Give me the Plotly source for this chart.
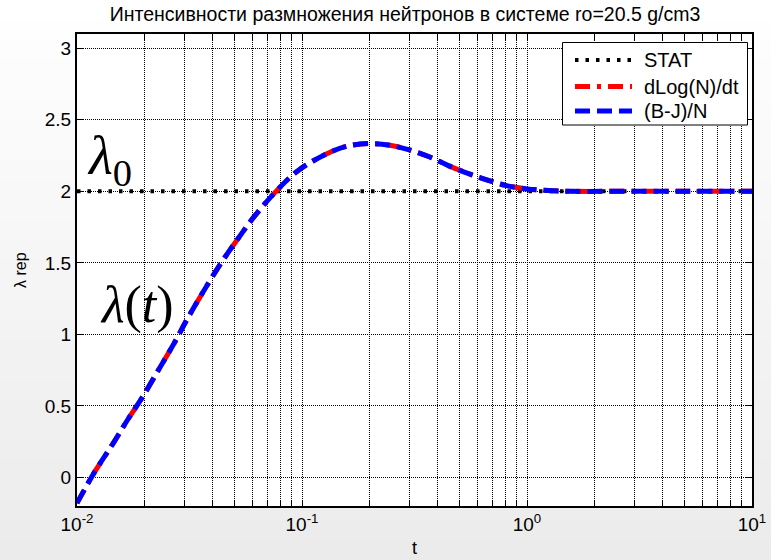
import plotly.graph_objects as go

# ---- data ----
t_vals = [0.01, 0.012, 0.0145, 0.0169, 0.0197, 0.0234, 0.0273, 0.0307, 0.0352, 0.0433,
          0.052, 0.0618, 0.0772, 0.0963, 0.129, 0.158, 0.2, 0.246, 0.3, 0.37,
          0.447, 0.558, 0.662, 0.81, 1.0, 1.245, 1.6, 2.5, 5.0, 10.0]
lam_dlog = [-0.18, 0.04, 0.24, 0.41, 0.57, 0.77, 0.95, 1.10, 1.26, 1.49,
            1.67, 1.83, 2.005, 2.146, 2.263, 2.315, 2.334, 2.322, 2.29, 2.24,
            2.18, 2.12, 2.08, 2.04, 2.017, 2.005, 2.0, 2.0, 2.0, 2.0]
lam_bj = [-0.18, 0.04, 0.24, 0.41, 0.57, 0.77, 0.95, 1.10, 1.26, 1.49,
          1.67, 1.83, 2.005, 2.146, 2.263, 2.315, 2.334, 2.322, 2.29, 2.24,
          2.18, 2.12, 2.08, 2.04, 2.017, 2.005, 2.0, 2.0, 2.0, 2.0]
t_stat = [0.01, 10.0]
lam_stat = [2.0, 2.0]

series_names = ["STAT", "dLog(N)/dt", "(B-J)/N"]
title_text = "Интенсивности размножения нейтронов в системе ro=20.5 g/cm3"
x_label = "t"
y_label = "λ rep"

x_major = [0.01, 0.1, 1.0, 10.0]
x_major_text = ["10<sup>-2</sup>", "10<sup>-1</sup>", "10<sup>0</sup>", "10<sup>1</sup>"]
x_minor_mult = [2, 3, 4, 5, 6, 7, 8, 9]
y_ticks = [0, 0.5, 1, 1.5, 2, 2.5, 3]
y_ticktext = ["0", "0.5", "1", "1.5", "2", "2.5", "3"]

# build tick list
xt_vals, xt_text = [], []
for i, m in enumerate(x_major):
    xt_vals.append(m)
    xt_text.append(x_major_text[i])
    if i < len(x_major) - 1:
        for k in x_minor_mult:
            xt_vals.append(m * k)
            xt_text.append("")

FONT = "Liberation Sans, Arial, sans-serif"
SERIF = "Liberation Serif, Times New Roman, serif"

styles = [
    dict(color="black", width=4, dash="3.5px,7px"),
    dict(color="red", width=5, dash="15px,7px,4px,7px"),
    dict(color="blue", width=5, dash="15px,7px"),
]

fig = go.Figure()
fig.add_trace(go.Scatter(x=t_stat, y=lam_stat, mode="lines", name=series_names[0],
                         line=styles[0], showlegend=False))
fig.add_trace(go.Scatter(x=t_vals, y=lam_dlog, mode="lines", name=series_names[1],
                         line=dict(**styles[1], shape="spline"), showlegend=False))
fig.add_trace(go.Scatter(x=t_vals, y=lam_bj, mode="lines", name=series_names[2],
                         line=dict(**styles[2], shape="spline"), showlegend=False))

# layout geometry (pixels)
L, R, T, B = 77, 19, 34, 54
W, H = 771, 560
pw, ph = W - L - R, H - T - B


def px(xp):
    return (xp - L) / pw


def py(yp):
    return (H - B - yp) / ph


shapes = []
# background gradient bands
nb = 28
for i in range(nb):
    y0p = i * H / nb
    y1p = (i + 1) * H / nb
    f = (i + 0.5) / nb
    g = int(round(255 - 20 * f))
    shapes.append(dict(type="rect", xref="paper", yref="paper", layer="below",
                       x0=px(0), x1=px(W), y0=py(y1p), y1=py(y0p),
                       line=dict(width=0), fillcolor=f"rgb({g},{g},{g})"))
shapes.append(dict(type="rect", xref="paper", yref="paper", layer="below",
                   x0=0, x1=1, y0=0, y1=1, line=dict(width=0), fillcolor="white"))

# legend box (drawn manually to match the reference's long line samples)
shapes.append(dict(type="rect", xref="paper", yref="paper", layer="above",
                   x0=px(562.5), x1=px(747.5), y0=py(125), y1=py(42.5),
                   line=dict(color="black", width=1), fillcolor="white"))
leg_y = [60, 86.5, 111]
annotations = []
for name, st, yy in zip(series_names, styles, leg_y):
    shapes.append(dict(type="line", xref="paper", yref="paper", layer="above",
                       x0=px(575), x1=px(632), y0=py(yy), y1=py(yy),
                       line=dict(color=st["color"], width=st["width"], dash=st["dash"])))
    annotations.append(dict(text=name, xref="paper", yref="paper", x=px(642), y=py(yy),
                            xanchor="left", yanchor="middle", showarrow=False,
                            font=dict(family=FONT, size=20, color="black")))

annotations += [
    dict(text=x_label, xref="paper", yref="paper", x=0.5, y=py(548), yanchor="middle",
         showarrow=False, font=dict(family=FONT, size=18, color="black")),
    dict(text=y_label, xref="paper", yref="paper", x=px(20), y=py(270),
         xanchor="center", yanchor="middle", textangle=-90,
         showarrow=False, font=dict(family=FONT, size=16, color="black")),
    dict(text="<i>λ</i><sub>0</sub>", xref="paper", yref="paper", x=px(85), y=py(160),
         xanchor="left", yanchor="middle", showarrow=False,
         font=dict(family=SERIF, size=55, color="black")),
    dict(text="<i>λ</i>(<i>t</i>)", xref="paper", yref="paper", x=px(98), y=py(305),
         xanchor="left", yanchor="middle", showarrow=False,
         font=dict(family=SERIF, size=52, color="black")),
]

axis_common = dict(showline=True, linecolor="black", linewidth=2, mirror="allticks",
                   ticks="inside", ticklen=6, tickcolor="black", tickwidth=1,
                   showgrid=True, gridcolor="black", gridwidth=1, griddash="1px,1px",
                   zeroline=False, automargin=False,
                   tickfont=dict(family=FONT, size=19, color="black"))

fig.update_layout(
    width=W, height=H,
    margin=dict(l=L, r=R, t=T, b=B, autoexpand=False),
    paper_bgcolor="white", plot_bgcolor="white",
    shapes=shapes,
    annotations=annotations,
    showlegend=False,
    title=dict(text=title_text, x=405 / W, xanchor="center", y=1 - 14 / H, yanchor="middle",
               font=dict(family=FONT, size=19.5, color="black")),
    xaxis=dict(type="log", range=[-2, 1], tickvals=xt_vals, ticktext=xt_text, **axis_common),
    yaxis=dict(range=[-0.2, 3.1], tickvals=y_ticks, ticktext=y_ticktext, **axis_common),
)

fig.write_html("out.html")
